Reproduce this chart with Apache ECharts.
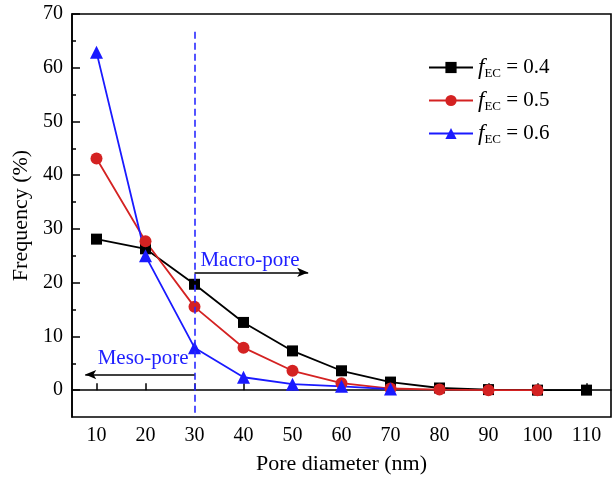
<!DOCTYPE html>
<html><head><meta charset="utf-8">
<script src="https://cdn.jsdelivr.net/npm/echarts@6/dist/echarts.min.js"></script>
<style>html,body{margin:0;padding:0;background:#fff}#c{width:614px;height:483px}</style>
</head><body><div id="c"></div>
<script>
const poreDiameter = [10, 20, 30, 40, 50, 60, 70, 80, 90, 100, 110];
const freq04 = [28.1, 26.3, 19.7, 12.6, 7.3, 3.6, 1.5, 0.4, 0.1, 0, 0];
const freq05 = [43.1, 27.7, 15.5, 7.9, 3.6, 1.3, 0.3, 0.1, 0, 0];
const freq06 = [62.9, 25.0, 7.9, 2.4, 1.1, 0.7, 0.2];
const seriesNames = ['0.4', '0.5', '0.6'];
const xTicks = [10, 20, 30, 40, 50, 60, 70, 80, 90, 100, 110];
const yTicks = [0, 10, 20, 30, 40, 50, 60, 70];
const yMinorTicks = [5, 15, 25, 35, 45, 55, 65];
const boundaryLine = [[30, 66.7], [30, -5]];
const macroArrow = [[30, 21.9], [53.2, 21.9]];
const mesoArrow = [[30, 2.9], [7.7, 2.9]];
const macroLabelPos = [31.2, 24.1];
const mesoLabelPos = [28.8, 5.8];

const FONT = '"Liberation Serif", "Times New Roman", serif';
const pairs = (xs, ys) => ys.map((v, i) => [xs[i], v]);
const colors = ['#000000', '#d42222', '#1a1aff'];

const chart = echarts.init(document.getElementById('c'));
const mk = (name, data, color, symbol, size) => ({
  name, type: 'line', data, symbol, symbolSize: size,
  lineStyle: { color, width: 1.8 }, itemStyle: { color },
  z: 3
});
chart.setOption({
  animation: false,
  grid: { left: 72, right: 3, top: 14, bottom: 66, show: true, borderColor: '#000', borderWidth: 1.6, backgroundColor: 'transparent' },
  legend: {
    orient: 'vertical', left: 428, top: 56, padding: 0, itemWidth: 44, itemHeight: 14, itemGap: 9,
    data: seriesNames,
    textStyle: {
      fontFamily: FONT, fontSize: 21, color: '#000',
      rich: {
        f: { fontFamily: FONT, fontSize: 23, fontStyle: 'italic', color: '#000' },
        s: { fontFamily: FONT, fontSize: 13, color: '#000', verticalAlign: 'bottom', padding: [12, 0, 0, 0] },
        n: { fontFamily: FONT, fontSize: 21, color: '#000' }
      }
    },
    formatter: n => '{f|f}{s|EC}{n| = ' + n + '}'
  },
  xAxis: {
    type: 'value', min: 5, max: 115,
    name: 'Pore diameter (nm)', nameLocation: 'middle', nameGap: 36,
    nameTextStyle: { fontFamily: FONT, fontSize: 22, color: '#000' },
    axisLine: { lineStyle: { color: '#000', width: 1.6 } },
    axisTick: { inside: true, length: 7, customValues: xTicks, lineStyle: { color: '#000', width: 1.5 } },
    axisLabel: { customValues: xTicks, fontFamily: FONT, fontSize: 20, color: '#000', margin: 9 },
    splitLine: { show: false }
  },
  yAxis: [{
    type: 'value', min: -5, max: 70,
    name: 'Frequency (%)', nameLocation: 'middle', nameGap: 40,
    nameTextStyle: { fontFamily: FONT, fontSize: 22, color: '#000' },
    axisLine: { show: true, lineStyle: { color: '#000', width: 1.6 } },
    axisTick: { inside: true, length: 8, customValues: yTicks, lineStyle: { color: '#000', width: 1.5 } },
    axisLabel: { customValues: yTicks, fontFamily: FONT, fontSize: 20, color: '#000', margin: 9 },
    splitLine: { show: false }
  }, {
    type: 'value', min: -5, max: 70, position: 'left',
    axisLine: { show: false },
    axisTick: { inside: true, length: 4, customValues: yMinorTicks, lineStyle: { color: '#000', width: 1.5 } },
    axisLabel: { show: false },
    splitLine: { show: false }
  }],
  series: [
    mk('0.4', pairs(poreDiameter, freq04), colors[0], 'rect', 11),
    mk('0.5', pairs(poreDiameter, freq05), colors[1], 'circle', 12),
    mk('0.6', pairs(poreDiameter, freq06), colors[2], 'triangle', 13),
    {
      name: 'annot', type: 'line', data: [], z: 2,
      markLine: {
        silent: true, animation: false, label: { show: false },
        data: [
          [{ coord: boundaryLine[0], symbol: 'none', lineStyle: { color: '#2a2aff', width: 1.6, type: [7, 4] } },
           { coord: boundaryLine[1], symbol: 'none' }],
          [{ coord: macroArrow[0], symbol: 'none', lineStyle: { color: '#000', width: 1.5, type: 'solid' } },
           { coord: macroArrow[1], symbol: 'arrow', symbolSize: [7, 11] }],
          [{ coord: mesoArrow[0], symbol: 'none', lineStyle: { color: '#000', width: 1.5, type: 'solid' } },
           { coord: mesoArrow[1], symbol: 'arrow', symbolSize: [7, 11] }]
        ]
      }
    }
  ]
});
const pm = chart.convertToPixel({ gridIndex: 0 }, macroLabelPos);
const ps = chart.convertToPixel({ gridIndex: 0 }, mesoLabelPos);
chart.setOption({
  graphic: [
    { type: 'text', x: pm[0], y: pm[1], style: { text: 'Macro-pore', font: '21px ' + FONT, fill: '#2020ff', textAlign: 'left', textVerticalAlign: 'middle' } },
    { type: 'text', x: ps[0], y: ps[1], style: { text: 'Meso-pore', font: '21px ' + FONT, fill: '#2020ff', textAlign: 'right', textVerticalAlign: 'middle' } }
  ]
});
</script></body></html>
